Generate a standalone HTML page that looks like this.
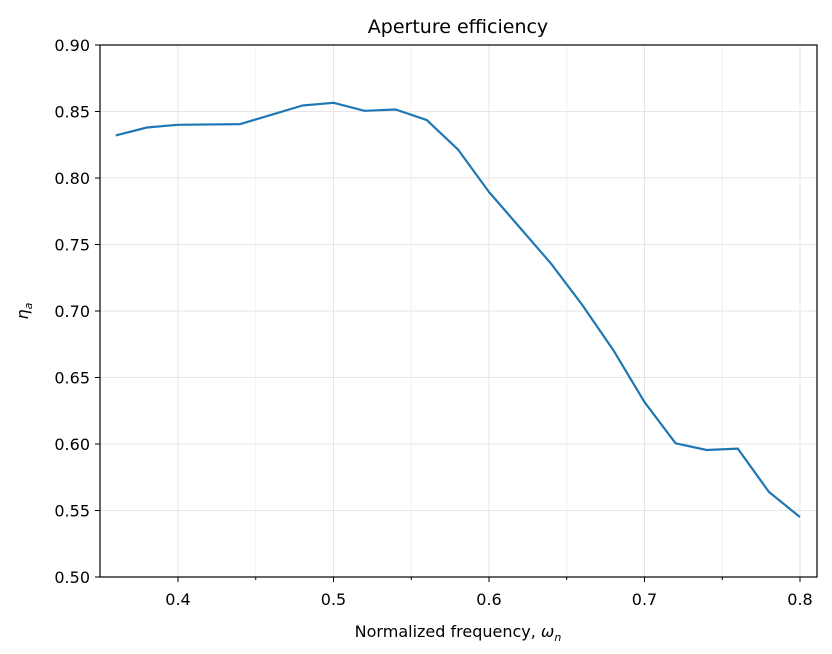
<!DOCTYPE html>
<html><head><style>body{margin:0;background:#fff}svg{display:block}text{font-family:"DejaVu Sans","Liberation Sans",sans-serif;fill:#000}</style></head><body>
<svg width="832" height="654" viewBox="0 0 832 654" xmlns="http://www.w3.org/2000/svg">
<g stroke="#e6e6e6" stroke-width="1">
<line x1="178" y1="45" x2="178" y2="577"/><line x1="333.5" y1="45" x2="333.5" y2="577"/><line x1="489" y1="45" x2="489" y2="577"/><line x1="644.5" y1="45" x2="644.5" y2="577"/><line x1="800" y1="45" x2="800" y2="577"/>
<g stroke="#f0f0f0"><line x1="255.75" y1="45" x2="255.75" y2="577"/><line x1="411.25" y1="45" x2="411.25" y2="577"/><line x1="566.75" y1="45" x2="566.75" y2="577"/><line x1="722.25" y1="45" x2="722.25" y2="577"/></g>
<line x1="100" y1="111.5" x2="817" y2="111.5"/><line x1="100" y1="178" x2="817" y2="178"/><line x1="100" y1="244.5" x2="817" y2="244.5"/><line x1="100" y1="311" x2="817" y2="311"/><line x1="100" y1="377.5" x2="817" y2="377.5"/><line x1="100" y1="444" x2="817" y2="444"/><line x1="100" y1="510.5" x2="817" y2="510.5"/>
</g>
<rect x="100" y="45" width="717" height="532" fill="none" stroke="#000" stroke-width="1.2"/>
<g stroke="#000" stroke-width="1">
<line x1="178" y1="577" x2="178" y2="582"/><line x1="333.5" y1="577" x2="333.5" y2="582"/><line x1="489" y1="577" x2="489" y2="582"/><line x1="644.5" y1="577" x2="644.5" y2="582"/><line x1="800" y1="577" x2="800" y2="582"/>
<line x1="255.75" y1="577" x2="255.75" y2="580"/><line x1="411.25" y1="577" x2="411.25" y2="580"/><line x1="566.75" y1="577" x2="566.75" y2="580"/><line x1="722.25" y1="577" x2="722.25" y2="580"/>
<line x1="95" y1="45" x2="100" y2="45"/><line x1="95" y1="111.5" x2="100" y2="111.5"/><line x1="95" y1="178" x2="100" y2="178"/><line x1="95" y1="244.5" x2="100" y2="244.5"/><line x1="95" y1="311" x2="100" y2="311"/><line x1="95" y1="377.5" x2="100" y2="377.5"/><line x1="95" y1="444" x2="100" y2="444"/><line x1="95" y1="510.5" x2="100" y2="510.5"/><line x1="95" y1="577" x2="100" y2="577"/>
</g>
<g font-size="16" text-anchor="middle">
<text x="178" y="605">0.4</text><text x="333.5" y="605">0.5</text><text x="489" y="605">0.6</text><text x="644.5" y="605">0.7</text><text x="800" y="605">0.8</text>
</g>
<g font-size="16" text-anchor="end">
<text x="90" y="51">0.90</text><text x="90" y="117.5">0.85</text><text x="90" y="184">0.80</text><text x="90" y="250.5">0.75</text><text x="90" y="317">0.70</text><text x="90" y="383.5">0.65</text><text x="90" y="450">0.60</text><text x="90" y="516.5">0.55</text><text x="90" y="583">0.50</text>
</g>
<text x="458" y="33" font-size="19" text-anchor="middle">Aperture efficiency</text>
<text x="458" y="637" font-size="16" text-anchor="middle">Normalized frequency, <tspan font-style="italic">ω</tspan><tspan font-style="italic" font-size="11" dy="4">n</tspan></text>
<text transform="translate(28,311) rotate(-90)" font-size="16" text-anchor="middle" font-style="italic">η<tspan font-size="11" dy="4">a</tspan></text>
<polyline fill="none" stroke="#1f77b4" stroke-width="2.2" stroke-linejoin="round" points="115.8,135.4 146.9,127.5 178,124.8 240.2,124.1 271.3,114.8 302.4,105.5 333.5,102.8 364.6,110.8 395.7,109.5 426.8,120.1 457.9,149.4 489,192 520.1,227.9 551.2,263.8 582.3,305 613.4,350.2 644.5,402.1 675.6,443.3 706.7,450 737.8,448.6 768.9,491.9 800,517.1"/>
</svg>
</body></html>
